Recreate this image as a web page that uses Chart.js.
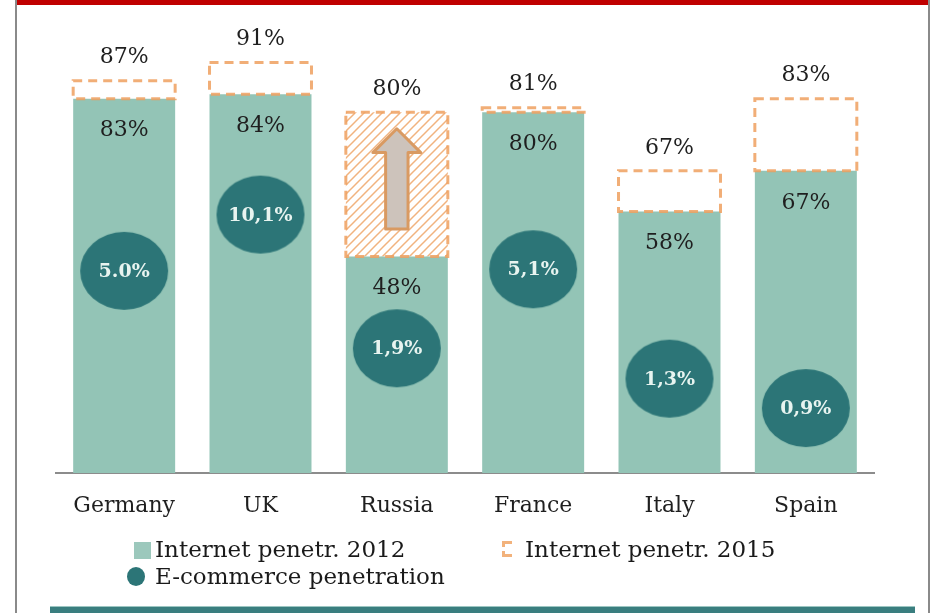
<!DOCTYPE html>
<html>
<head>
<meta charset="utf-8">
<script src="https://cdn.jsdelivr.net/npm/chart.js@4.4.1/dist/chart.umd.min.js"></script>
<style>
  html, body { margin: 0; padding: 0; background: #fff; }
  #wrap { position: relative; width: 930px; height: 613px; overflow: hidden; }
  #chart { position: absolute; left: 0; top: 0; }
  .frame { position: absolute; }
  .legend-text { position: absolute; font: 23px "DejaVu Serif", serif; color: #1a1a1a; line-height: 1; white-space: nowrap; }
  .legend-box { position: absolute; }
</style>
</head>
<body>
<div id="wrap">
  <canvas id="chart" width="930" height="613"></canvas>
  <div class="frame" style="left:15px;top:0;width:915px;height:5px;background:#c00000;"></div>
  <div class="frame" style="left:15px;top:0;width:2px;height:613px;background:#8a8a8a;"></div>
  <div class="frame" style="left:928px;top:0;width:2px;height:613px;background:#8a8a8a;"></div>
  <div class="frame" style="left:50px;top:606px;width:865px;height:7px;background:#3a7e7f;border-top:1px solid #9cc6c2;"></div>

  <div class="legend-box" style="left:134px;top:542px;width:17px;height:17px;background:#9cc8bc;"></div>
  <div class="legend-text" style="left:155px;top:538px;">Internet penetr. 2012</div>
  <div class="legend-box" style="left:502px;top:541px;width:7px;height:10px;border:3px dashed #f2b27c;border-right:none;"></div>
  <div class="legend-text" style="left:525px;top:538px;">Internet penetr. 2015</div>
  <div class="legend-box" style="left:127px;top:567px;width:18px;height:19px;border-radius:50%;background:#2c7577;"></div>
  <div class="legend-text" style="left:155px;top:565px;">E-commerce penetration</div>
</div>
<script>
const categories = ['Germany', 'UK', 'Russia', 'France', 'Italy', 'Spain'];
const internet2012 = [83, 84, 48, 80, 58, 67];
const internet2015 = [87, 91, 80, 81, 67, 83];
const ecommerce = [5.0, 10.1, 1.9, 5.1, 1.3, 0.9];
const ecommerceLabels = ['5.0%', '10,1%', '1,9%', '5,1%', '1,3%', '0,9%'];
const highlightIndex = 2; // Russia: projected growth shown with hatch + arrow

const TEAL_LIGHT = '#93c4b6';
const TEAL_DARK = '#2c7577';
const ORANGE = 'rgba(238,160,95,0.85)';

// hatch for the Russia 2015 box
function makeHatch() {
  const c = document.createElement('canvas');
  c.width = 9; c.height = 9;
  const g = c.getContext('2d');
  g.fillStyle = '#fff';
  g.fillRect(0, 0, 9, 9);
  g.strokeStyle = 'rgba(240,175,120,0.95)';
  g.lineWidth = 1.5;
  g.beginPath();
  g.moveTo(0, 9); g.lineTo(9, 0);
  g.moveTo(-2, 2); g.lineTo(2, -2);
  g.moveTo(7, 11); g.lineTo(11, 7);
  g.stroke();
  return g.createPattern(c, 'repeat');
}

// ellipse marker for e-commerce points
function makeEllipse() {
  const c = document.createElement('canvas');
  c.width = 90; c.height = 80;
  const g = c.getContext('2d');
  g.fillStyle = TEAL_DARK;
  g.beginPath();
  g.ellipse(45, 40, 44, 39, 0, 0, Math.PI * 2);
  g.fill();
  return c;
}

const hatch = makeHatch();
const boxFill = categories.map((_, i) => i === highlightIndex ? hatch : '#ffffff');

const overlayPlugin = {
  id: 'overlay',
  afterDatasetsDraw(chart) {
    const ctx = chart.ctx;
    const meta2015 = chart.getDatasetMeta(1);
    const meta2012 = chart.getDatasetMeta(2);
    const metaEc = chart.getDatasetMeta(0);
    ctx.save();

    // dashed outline of 2015 boxes
    meta2015.data.forEach((el, i) => {
      const p = el.getProps(['x', 'y', 'base', 'width'], true);
      ctx.setLineDash([9, 6]);
      ctx.lineWidth = 3;
      ctx.strokeStyle = ORANGE;
      ctx.strokeRect(p.x - p.width / 2, p.y, p.width, p.base - p.y);
    });
    ctx.setLineDash([]);

    // arrow inside Russia box
    const r = meta2015.data[highlightIndex].getProps(['x', 'y', 'base', 'width'], true);
    const h = r.base - r.y;
    const tip = r.y + h * 0.115;
    const headBase = r.y + h * 0.28;
    const bottom = r.base - h * 0.19;
    const hw = r.width * 0.235;
    const sw = r.width * 0.11;
    ctx.beginPath();
    ctx.moveTo(r.x, tip);
    ctx.lineTo(r.x + hw, headBase);
    ctx.lineTo(r.x + sw, headBase);
    ctx.lineTo(r.x + sw, bottom);
    ctx.lineTo(r.x - sw, bottom);
    ctx.lineTo(r.x - sw, headBase);
    ctx.lineTo(r.x - hw, headBase);
    ctx.closePath();
    ctx.fillStyle = '#cdc3bb';
    ctx.fill();
    ctx.lineWidth = 3;
    ctx.lineJoin = 'round';
    ctx.strokeStyle = '#d99a62';
    ctx.stroke();

    // value labels
    ctx.font = '22px "DejaVu Serif", serif';
    ctx.fillStyle = '#1f1f1f';
    ctx.textAlign = 'center';
    ctx.textBaseline = 'middle';
    meta2015.data.forEach((el, i) => {
      ctx.fillText(internet2015[i] + '%', el.x, el.y - 23);
    });
    meta2012.data.forEach((el, i) => {
      ctx.fillText(internet2012[i] + '%', el.x, el.y + 32);
    });

    ctx.font = 'bold 19px "DejaVu Serif", serif';
    ctx.fillStyle = '#e8f4f0';
    metaEc.data.forEach((el, i) => {
      ctx.fillText(ecommerceLabels[i], el.x, el.y + 1);
    });
    ctx.restore();
  }
};

new Chart(document.getElementById('chart'), {
  data: {
    labels: categories,
    datasets: [
      {
        type: 'line',
        label: 'E-commerce penetration',
        data: ecommerce,
        yAxisID: 'y2',
        showLine: false,
        clip: false,
        pointStyle: makeEllipse(),
        pointRadius: 40,
        order: 0
      },
      {
        type: 'bar',
        label: 'Internet penetr. 2015',
        data: internet2015.map((v, i) => [internet2012[i], v]),
        backgroundColor: boxFill,
        borderWidth: 0,
        grouped: false,
        categoryPercentage: 1,
        barPercentage: 0.748,
        order: 2
      },
      {
        type: 'bar',
        label: 'Internet penetr. 2012',
        data: internet2012,
        backgroundColor: TEAL_LIGHT,
        borderWidth: 0,
        grouped: false,
        categoryPercentage: 1,
        barPercentage: 0.748,
        order: 1
      }
    ]
  },
  options: {
    responsive: false,
    animation: false,
    layout: { autoPadding: false, padding: { left: 56, right: 56, top: 22, bottom: 88 } },
    plugins: {
      legend: { display: false },
      tooltip: { enabled: false }
    },
    scales: {
      x: {
        grid: { display: false, drawTicks: false },
        border: { display: true, color: '#8c8c8c', width: 2 },
        ticks: {
          font: { family: '"DejaVu Serif", serif', size: 22 },
          color: '#1f1f1f',
          padding: 20,
          maxRotation: 0,
          autoSkip: false
        },
        afterFit(scale) { scale.height = 52; }
      },
      y: { display: false, min: 0, max: 100 },
      y2: { type: 'logarithmic', display: false, min: 0.4, max: 112 }
    }
  },
  plugins: [overlayPlugin]
});
</script>
</body>
</html>
